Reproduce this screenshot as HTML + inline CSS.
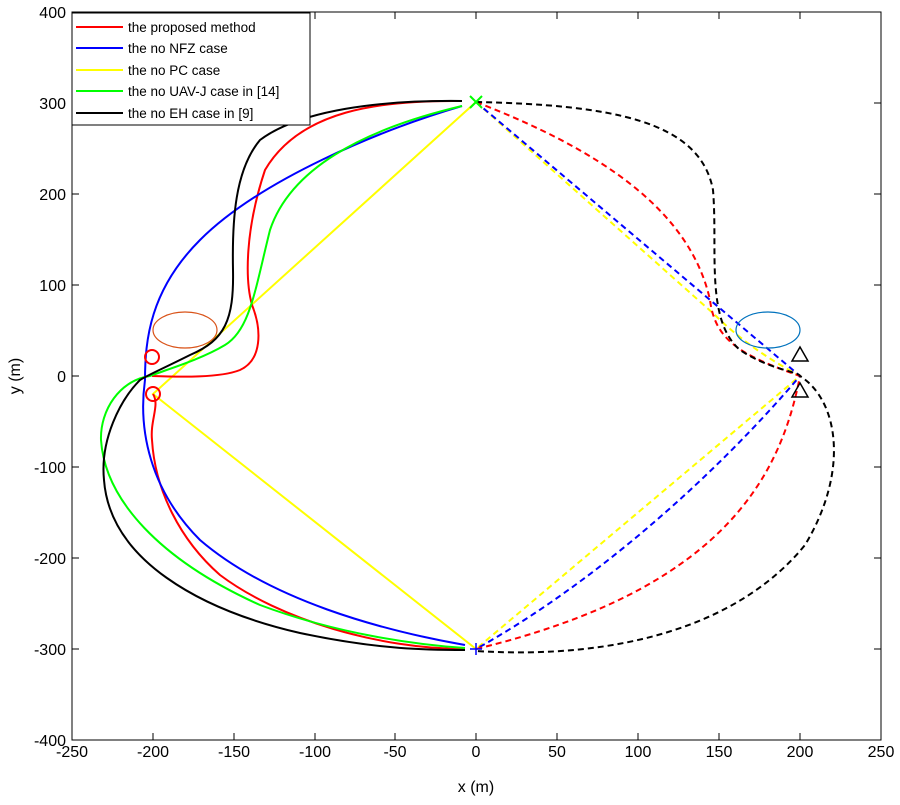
<!DOCTYPE html>
<html><head><style>body{margin:0;background:#fff}svg text{font-family:"Liberation Sans",sans-serif}</style></head>
<body><svg width="900" height="800" xmlns="http://www.w3.org/2000/svg">
<rect x="0" y="0" width="900" height="800" fill="#fff"/>
<g stroke="#000" stroke-width="1" fill="none">
<rect x="72" y="12" width="809" height="728"/>
<path d="M72 740v-7M153 740v-7M234 740v-7M315 740v-7M395 740v-7M476 740v-7M557 740v-7M638 740v-7M719 740v-7M800 740v-7M881 740v-7"/>
<path d="M72 12v7M153 12v7M234 12v7M315 12v7M395 12v7M476 12v7M557 12v7M638 12v7M719 12v7M800 12v7M881 12v7"/>
<path d="M72 12h7M72 103h7M72 194h7M72 285h7M72 376h7M72 467h7M72 558h7M72 649h7M72 740h7"/>
<path d="M881 12h-7M881 103h-7M881 194h-7M881 285h-7M881 376h-7M881 467h-7M881 558h-7M881 649h-7M881 740h-7"/>
</g>
<g font-size="16" fill="#000" text-anchor="middle">
<text x="72" y="757">-250</text><text x="153" y="757">-200</text><text x="234" y="757">-150</text><text x="315" y="757">-100</text><text x="395" y="757">-50</text><text x="476" y="757">0</text><text x="557" y="757">50</text><text x="638" y="757">100</text><text x="719" y="757">150</text><text x="800" y="757">200</text><text x="881" y="757">250</text>
<text x="476" y="792">x (m)</text>
</g>
<g font-size="16" fill="#000" text-anchor="end">
<text x="66" y="18">400</text><text x="66" y="109">300</text><text x="66" y="200">200</text><text x="66" y="291">100</text><text x="66" y="382">0</text><text x="66" y="473">-100</text><text x="66" y="564">-200</text><text x="66" y="655">-300</text><text x="66" y="746">-400</text>
</g>
<text x="20" y="376" font-size="16" text-anchor="middle" transform="rotate(-90 20 376)">y (m)</text>
<g fill="none" stroke-width="2">
<path stroke="#ff0" d="M476 102L153 394L476 649"/>
<path stroke="#ff0" stroke-dasharray="6,4" d="M476 102L715 315C740 340 770 360 800 376L476 649"/>
<path stroke="#00f" stroke-dasharray="6,4" d="M476 102L800 376C720 470 600 580 476 649"/>
<path stroke="#f00" stroke-dasharray="6,4" d="M476 102C600 150 690 210 710 300C715 340 740 355 800 376C780 480 720 590 476 649"/>
<path stroke="#000" stroke-dasharray="6,4" d="M476 102C610 105 700 120 713 190C718 250 705 320 740 350C770 370 800 372 800 376C838 400 850 470 805 545C740 625 620 660 476 651"/>
<path stroke="#f00" d="M462 101C380 100 300 110 265 170C245 230 245 280 252 305C262 330 262 360 240 370C220 378 180 377 152 376M153 394C160 405 150 420 152 440C155 490 180 540 220 575C280 620 380 649 465 649"/>
<path stroke="#00f" d="M462 106C380 130 260 180 200 240C150 290 145 340 145 380C138 430 150 490 200 540C270 600 380 630 465 645"/>
<path stroke="#0f0" d="M462 106C360 130 290 170 270 230C255 290 250 330 225 345C200 360 165 370 150 376C120 380 100 410 101 440C105 500 160 560 260 605C340 635 420 645 465 648"/>
<path stroke="#000" d="M462 101C380 100 300 110 260 140C235 170 232 220 233 270C234 320 225 340 190 355C160 370 148 375 140 380C120 400 100 440 104 480C110 560 200 610 300 633C380 650 430 650 465 650"/>
</g>
<g fill="none" stroke-width="1.2">
<ellipse cx="185" cy="330" rx="32" ry="18" stroke="#d95319"/>
<ellipse cx="768" cy="330" rx="32" ry="18" stroke="#0072bd"/>
</g>
<g fill="none" stroke="#f00" stroke-width="2"><circle cx="152" cy="357" r="7"/><circle cx="153" cy="394" r="7"/></g>
<g fill="none" stroke="#000" stroke-width="1.5"><path d="M800 347l-8 14h16z"/><path d="M800 383l-8 14h16z"/></g>
<path d="M470 96l12 12M482 96l-12 12" stroke="#0f0" stroke-width="2"/>
<path d="M470 649h12M476 643v12" stroke="#00f" stroke-width="1.5"/>
<rect x="72" y="13" width="238" height="112" fill="#fff" stroke="#000"/>
<g stroke-width="2"><path d="M76 27h47" stroke="#f00"/><path d="M76 48h47" stroke="#00f"/><path d="M76 70h47" stroke="#ff0"/><path d="M76 91h47" stroke="#0f0"/><path d="M76 113h47" stroke="#000"/></g>
<g font-size="13.5" fill="#000"><text x="128" y="32">the proposed method</text><text x="128" y="53">the no NFZ case</text><text x="128" y="75">the no PC case</text><text x="128" y="96">the no UAV-J case in [14]</text><text x="128" y="118">the no EH case in [9]</text></g>
</svg></body></html>
